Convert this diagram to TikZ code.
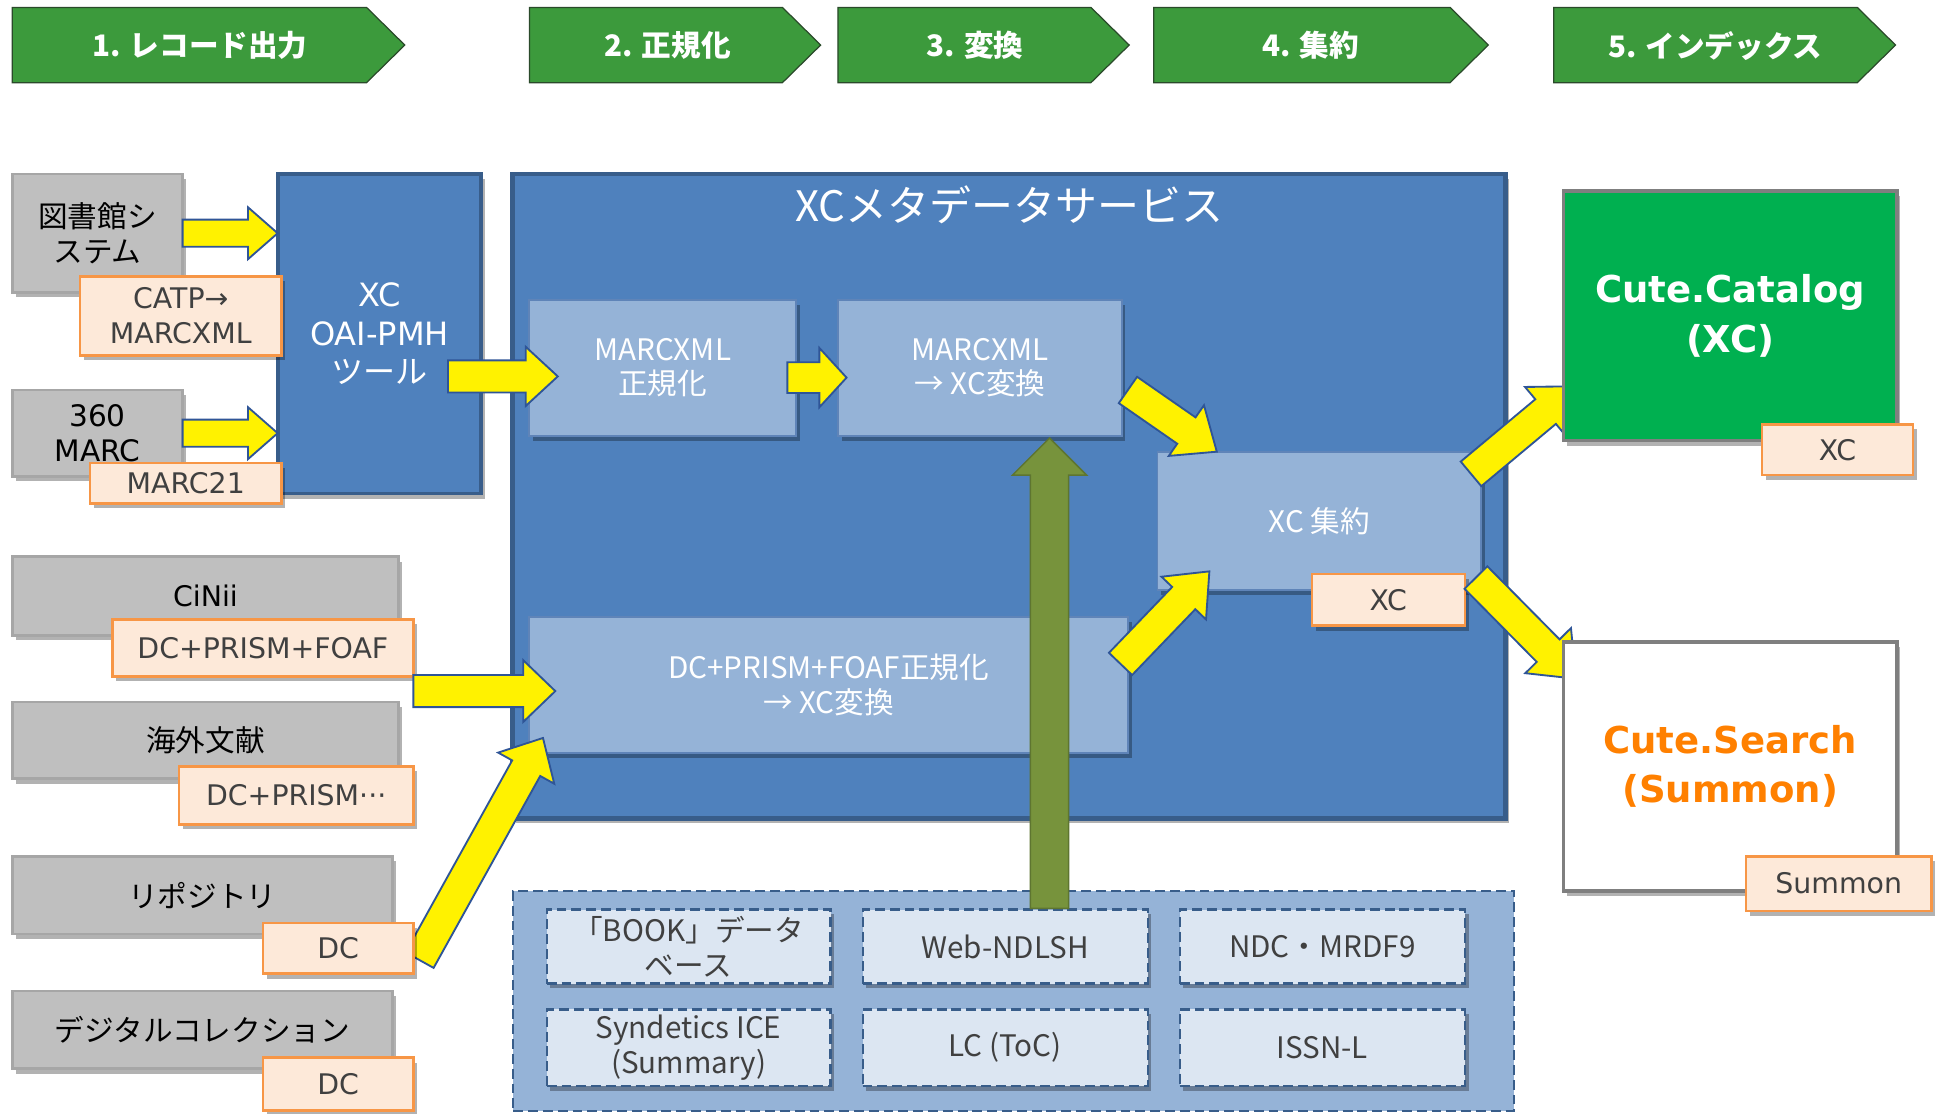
\documentclass[tikz,border=0pt]{standalone}
\usepackage{fontspec}
\setmainfont{Noto Sans CJK JP}
\newfontfamily\lat{DejaVu Sans}
\newfontfamily\jp{Noto Sans CJK JP}
\usetikzlibrary{calc,shadows}
\definecolor{hgreen}{HTML}{3C9A3C}
\definecolor{hdark}{HTML}{2A4A2A}
\definecolor{gbox}{HTML}{BFBFBF}
\definecolor{gborder}{HTML}{A6A6A6}
\definecolor{lfill}{HTML}{FDE9D9}
\definecolor{lborder}{HTML}{F79646}
\definecolor{ltext}{HTML}{404040}
\definecolor{bfill}{HTML}{4F81BD}
\definecolor{bborder}{HTML}{385D8A}
\definecolor{lbfill}{HTML}{95B3D7}
\definecolor{lbborder}{HTML}{5F84B8}
\definecolor{pale}{HTML}{DCE6F2}
\definecolor{ygreen}{HTML}{77933C}
\definecolor{ygborder}{HTML}{5E7530}
\definecolor{cgreen}{HTML}{00B050}
\definecolor{cborder}{HTML}{7F7F7F}
\definecolor{corange}{HTML}{FF8000}
\definecolor{yarrowb}{HTML}{2F5597}
\tikzset{
  sh/.style={drop shadow={shadow xshift=3pt, shadow yshift=-4pt, opacity=0.3, fill=black}},
  box/.style={anchor=north west, inner sep=0pt, outer sep=0pt, align=center},
  greybox/.style={box, sh, fill=gbox, draw=gborder, line width=2pt, font=\fontsize{24}{28}\selectfont, text=black},
  lab/.style={box, sh, fill=lfill, draw=lborder, line width=2pt, font=\lat\fontsize{23}{28}\selectfont, text=ltext},
  bluebox/.style={box, sh, fill=bfill, draw=bborder, line width=3pt, text=white},
  lightbox/.style={box, sh, fill=lbfill, draw=lbborder, line width=1.5pt, text=white, font=\fontsize{24}{28}\selectfont},
  dashbox/.style={box, sh, fill=pale, draw=bborder, dash pattern=on 8pt off 4pt, line width=1.8pt, text=ltext, font=\fontsize{24}{28}\selectfont},
  dashouter/.style={box, fill=lbfill, draw=bborder, dash pattern=on 8pt off 4pt, line width=1.8pt},
  catbox/.style={box, sh, line width=3pt, draw=cborder},
  yarrow/.style={fill=yellow, draw=yarrowb, line width=1.5pt, line join=miter},
  garrow/.style={fill=ygreen, draw=ygborder, line width=1.2pt},
  header/.style={fill=hgreen, draw=hdark, line width=1pt},
  htext/.style={text=white, font=\bfseries\fontsize{24}{28}\selectfont},
}
% style, name, x1, y1, x2, y2, text
\newcommand\boxat[7]{\node[#1, minimum width={#5-#3}, minimum height={#6-#4}] (#2) at (#3,#4) {#7};}
% style, from, to, shaft half width, head half width, head length
\newcommand\fatarrow[6]{%
  \coordinate (fahb) at ($(#3)!#6!(#2)$);
  \draw[#1] ($(#2)!#4!90:(#3)$) -- ($(fahb)!#4!90:(#3)$) -- ($(fahb)!#5!90:(#3)$) -- (#3)
    -- ($(fahb)!#5!-90:(#3)$) -- ($(fahb)!#4!-90:(#3)$) -- ($(#2)!#4!-90:(#3)$) -- cycle;}
\begin{document}
\begin{tikzpicture}[x=1pt,y=-1pt]
\useasboundingbox (0,0) rectangle (1568,902);
% headers
\draw[header] (10,6) -- (297,6) -- (328,36.5) -- (297,67) -- (10,67) -- cycle;
\node[htext] (h1) at (162,37) {1. レコード出力};
\draw[header] (429,6) -- (634,6) -- (665,36.5) -- (634,67) -- (429,67) -- cycle;
\node[htext] (h2) at (541,37) {2. 正規化};
\draw[header] (679,6) -- (884,6) -- (915,36.5) -- (884,67) -- (679,67) -- cycle;
\node[htext] (h3) at (790,37) {3. 変換};
\draw[header] (935,6) -- (1175,6) -- (1206,36.5) -- (1175,67) -- (935,67) -- cycle;
\node[htext] (h4) at (1062,37) {4. 集約};
\draw[header] (1259,6) -- (1505,6) -- (1536,36.5) -- (1505,67) -- (1259,67) -- cycle;
\node[htext] (h5) at (1390,37) {5. インデックス};

% big service box
\boxat{bluebox, line width=4pt}{svc}{415}{141}{1220}{663}{}
\node[text=white, font=\fontsize{34}{40}\selectfont] (title) at (818,166) {XCメタデータサービス};
% OAI tool
\boxat{bluebox, font=\fontsize{26}{31}\selectfont}{oai}{225}{141}{390}{400}{{\lat XC}\\{\lat OAI-PMH}\\ツール}

% inner processing boxes
\boxat{lightbox}{norm}{429}{243}{645}{353}{MARCXML\\正規化}
\boxat{lightbox}{conv}{679}{243}{909}{353}{MARCXML\\→ XC変換}
\boxat{lightbox}{agg}{938}{366}{1200}{478}{XC 集約}
\boxat{lightbox}{dcconv}{429}{500}{914}{610}{DC+PRISM+FOAF正規化\\→ XC変換}

% enrichment sources
\boxat{dashouter}{ext}{416}{722}{1227}{900}{}
\boxat{dashbox}{book}{443}{737}{673}{797}{「BOOK」データ\\ベース}
\boxat{dashbox}{ndlsh}{699}{737}{930}{797}{Web-NDLSH}
\boxat{dashbox}{ndc}{956}{737}{1187}{797}{NDC・MRDF9}
\boxat{dashbox}{synd}{443}{818}{673}{880}{Syndetics ICE\\(Summary)}
\boxat{dashbox}{lc}{699}{818}{930}{880}{LC (ToC)}
\boxat{dashbox}{issn}{956}{818}{1187}{880}{ISSN-L}

% repository arrow (under its label)
\coordinate (a8s) at (340,778);
\coordinate (a8t) at (440,598);
\fatarrow{yarrow}{a8s}{a8t}{13pt}{26pt}{28pt}

% left source boxes
\boxat{greybox}{lib}{10}{141}{148}{237}{図書館シ\\ステム}
\boxat{lab}{libl}{65}{224}{228}{288}{CATP→\\MARCXML}
\boxat{greybox, font=\lat\fontsize{24}{28}\selectfont}{marc}{10}{316}{148}{386}{360\\MARC}
\boxat{lab}{marcl}{73}{375}{228}{408}{MARC21}
\boxat{greybox, font=\lat\fontsize{23}{28}\selectfont}{cinii}{10}{451}{323}{515}{CiNii}
\boxat{lab}{ciniil}{91}{502}{335}{548}{DC+PRISM+FOAF}
\boxat{greybox}{kaigai}{10}{569}{323}{631}{海外文献}
\boxat{lab}{kaigail}{145}{621}{335}{668}{DC+PRISM···}
\boxat{greybox}{repo}{10}{694}{318}{757}{リポジトリ}
\boxat{lab}{repol}{213}{748}{335}{789}{DC}
\boxat{greybox}{digi}{10}{803}{318}{866}{デジタルコレクション}
\boxat{lab}{digil}{213}{857}{335}{900}{DC}

% XC label on aggregation
\boxat{lab}{aggl}{1063}{465}{1187}{507}{XC}

% green enrichment arrow
\coordinate (gs) at (850.5,736);
\coordinate (gt) at (850.5,355);
\fatarrow{garrow}{gs}{gt}{15.5pt}{30pt}{30pt}

% yellow arrows
\coordinate (a1t) at (oai.west |- lib.east);
\fatarrow{yarrow}{lib.east}{a1t}{11pt}{21pt}{24pt}
\coordinate (a2t) at (oai.west |- marc.east);
\fatarrow{yarrow}{marc.east}{a2t}{11pt}{21pt}{24pt}
\coordinate (a3s) at (363,305);
\coordinate (a3t) at (452,305);
\fatarrow{yarrow}{a3s}{a3t}{13pt}{24pt}{26pt}
\coordinate (a4s) at (638,306);
\coordinate (a4t) at (686,306);
\fatarrow{yarrow}{a4s}{a4t}{12.5pt}{24pt}{22pt}
\coordinate (a5s) at (914,316);
\coordinate (a5t) at (986,366);
\fatarrow{yarrow}{a5s}{a5t}{13pt}{25pt}{30pt}
\coordinate (a6s) at (908,538);
\coordinate (a6t) at (980,463);
\fatarrow{yarrow}{a6s}{a6t}{13pt}{25pt}{30pt}
\coordinate (a7s) at (335,560);
\coordinate (a7t) at (450,560);
\fatarrow{yarrow}{a7s}{a7t}{13pt}{25pt}{26pt}
\coordinate (a9s) at (1192,384);
\coordinate (a9t) at (1277,313);
\fatarrow{yarrow}{a9s}{a9t}{13pt}{26pt}{32pt}
\coordinate (a10s) at (1196,468);
\coordinate (a10t) at (1277,550);
\fatarrow{yarrow}{a10s}{a10t}{13pt}{26pt}{32pt}

% output systems
\boxat{catbox, fill=cgreen, text=white, font=\lat\bfseries\fontsize{30}{40}\selectfont}{cat}{1267}{155}{1537}{357}{Cute.Catalog\\(XC)}
\boxat{lab}{catl}{1428}{344}{1550}{385}{XC}
\boxat{catbox, fill=white, text=corange, font=\lat\bfseries\fontsize{30}{40}\selectfont}{search}{1267}{520}{1537}{722}{Cute.Search\\(Summon)}
\boxat{lab}{searchl}{1415}{694}{1565}{738}{Summon}
\end{tikzpicture}
\end{document}
